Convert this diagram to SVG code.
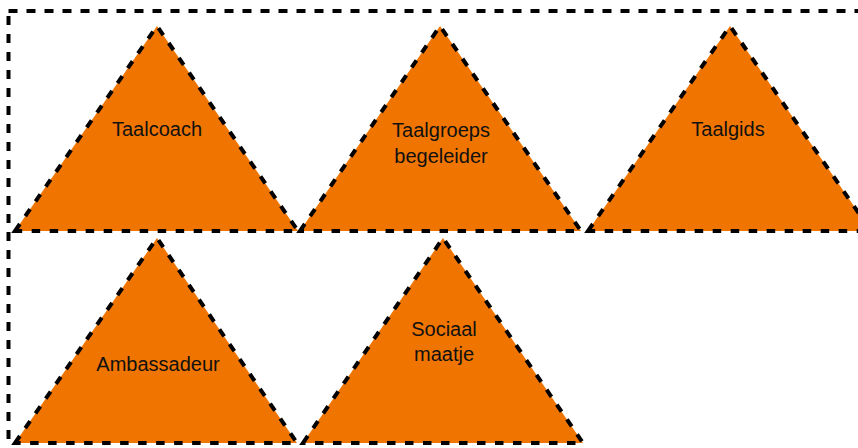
<svg xmlns="http://www.w3.org/2000/svg" width="858" height="448" viewBox="0 0 858 448">
<style>
.frame{fill:none;stroke:#000;stroke-width:4;stroke-dasharray:9 9}
.tri{fill:#F07400;stroke:#000;stroke-width:4;stroke-dasharray:8.5 9.5;stroke-linejoin:miter}
.lbl{font-family:"Liberation Sans",Arial,Helvetica,sans-serif;font-size:20px;fill:#111;text-anchor:middle}
</style>
<rect id="frame" class="frame" x="8.5" y="11" width="870" height="460"/>
<g id="taalcoach">
<polygon class="tri" points="15,231 157,26 298,231"/>
<text class="lbl" x="157" y="136">Taalcoach</text>
</g>
<g id="taalgroepsbegeleider">
<polygon class="tri" points="300,231 440,26 581,231"/>
<text class="lbl" x="441" y="137">Taalgroeps</text>
<text class="lbl" x="441" y="163">begeleider</text>
</g>
<g id="taalgids">
<polygon class="tri" points="588,231 730,26 871,231"/>
<text class="lbl" x="728" y="136">Taalgids</text>
</g>
<g id="ambassadeur">
<polygon class="tri" points="15,443 157,238 297,443"/>
<text class="lbl" x="158" y="371">Ambassadeur</text>
</g>
<g id="sociaalmaatje">
<polygon class="tri" points="303,443 443,238 583,443"/>
<text class="lbl" x="444" y="336">Sociaal</text>
<text class="lbl" x="444" y="361">maatje</text>
</g>
<g id="connectors"></g>
</svg>
